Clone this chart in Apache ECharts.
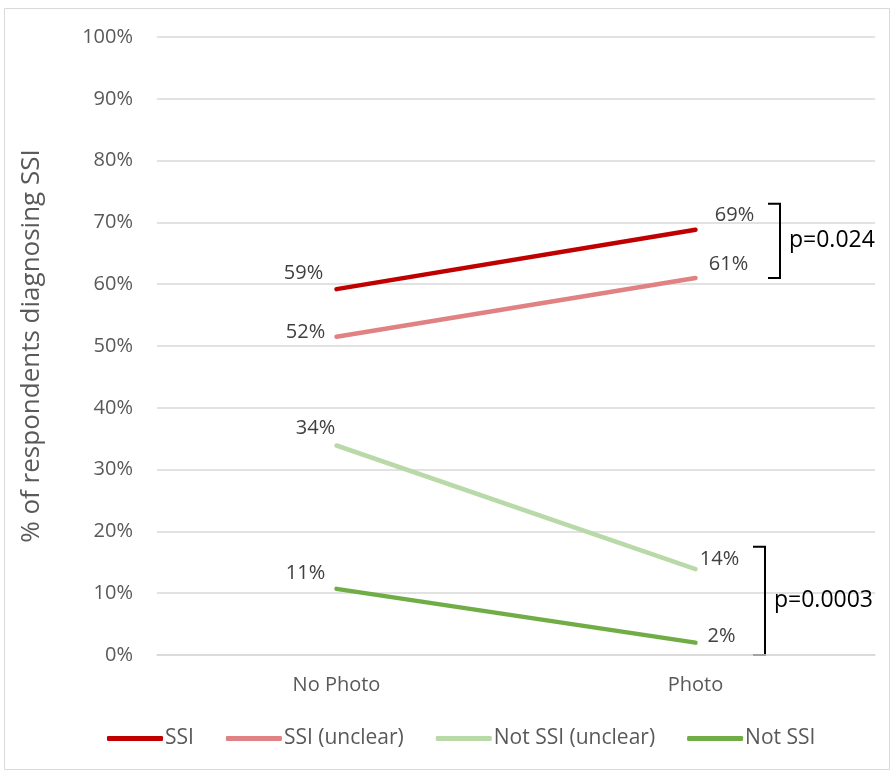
<!DOCTYPE html>
<html><head><meta charset="utf-8">
<script src="https://cdn.jsdelivr.net/npm/echarts@6/dist/echarts.min.js"></script>
<style>html,body{margin:0;padding:0;background:#fff}#c{width:894px;height:775px}</style>
</head><body><div id="c"></div>
<script>
const categories = ['No Photo', 'Photo'];
const seriesNames = ['SSI', 'SSI (unclear)', 'Not SSI (unclear)', 'Not SSI'];
const ssi = [59.2, 68.8];
const ssiUnclear = [51.5, 61.0];
const notSsiUnclear = [33.9, 13.9];
const notSsi = [10.7, 2.0];
const labelText = [['59%', '69%'], ['52%', '61%'], ['34%', '14%'], ['11%', '2%']];
const yTicks = [0, 10, 20, 30, 40, 50, 60, 70, 80, 90, 100];
const pValues = ['p=0.024', 'p=0.0003'];
const bracketRanges = [[73, 61], [17.5, 0]];

const colors = ['#C00000', '#E08283', '#B9DAA8', '#70AD47'];
const allData = [ssi, ssiUnclear, notSsiUnclear, notSsi];
const labelOffsets = [
  [[-33, -16], [39, -15]],
  [[-31, -4], [33, -14]],
  [[-21, -17], [24, -10]],
  [[-31, -16], [26, -6]]
];
const chart = echarts.init(document.getElementById('c'));
const font = 'Open Sans';
chart.setOption({
  animation: false,
  textStyle: { fontFamily: font },
  grid: { left: 157, right: 19, top: 37, bottom: 120 },
  legend: {
    bottom: 21, left: 102,
    itemWidth: 56, itemHeight: 5, itemGap: 32,
    icon: 'roundRect',
    textStyle: { fontSize: 21, color: '#595959', fontFamily: font, padding: [0, 0, 0, -3] },
    data: seriesNames
  },
  xAxis: {
    type: 'category', data: categories,
    axisLine: { lineStyle: { color: '#D9D9D9', width: 1.5 } },
    axisTick: { show: false },
    axisLabel: { fontSize: 20, color: '#595959', margin: 20 }
  },
  yAxis: {
    type: 'value', min: 0, max: 100, interval: 10,
    name: '% of respondents diagnosing SSI', nameLocation: 'middle', nameGap: 112,
    nameTextStyle: { fontSize: 26, color: '#595959' },
    axisLabel: { fontSize: 20, color: '#595959', margin: 24, formatter: v => yTicks.includes(v) ? v + '%' : '' },
    splitLine: { lineStyle: { color: '#D9D9D9', width: 1.5 } },
    axisLine: { show: false }, axisTick: { show: false }
  },
  series: allData.map((d, i) => ({
    name: seriesNames[i], type: 'line', symbol: 'circle', symbolSize: 0.01, showSymbol: true,
    lineStyle: { color: colors[i], width: 4.5, cap: 'round' },
    itemStyle: { color: colors[i] },
    label: { show: true },
    data: d.map((v, j) => ({
      value: v,
      label: {
        show: true, formatter: labelText[i][j],
        position: 'inside',
        offset: labelOffsets[i][j],
        fontSize: 20, color: '#404040', fontFamily: font
      }
    }))
  }))
});

function drawBrackets() {
  const bx = [780, 765];
  const els = [];
  bracketRanges.forEach((r, i) => {
    const y1 = chart.convertToPixel({ yAxisIndex: 0 }, r[0]);
    const y2 = chart.convertToPixel({ yAxisIndex: 0 }, r[1]);
    const x = bx[i];
    els.push({
      type: 'polyline',
      shape: { points: [[x - 12, y1], [x, y1], [x, y2], [x - 12, y2]] },
      style: { stroke: '#000', lineWidth: 2, fill: null }
    });
    els.push({
      type: 'text', x: x + 9, y: (y1 + y2) / 2,
      style: { text: pValues[i], fontSize: 23, fill: '#000', fontFamily: font, verticalAlign: 'middle' }
    });
  });
  els.push({
    type: 'rect', shape: { x: 4.5, y: 8.5, width: 885, height: 761 },
    style: { fill: null, stroke: '#D9D9D9', lineWidth: 1 }, silent: true
  });
  chart.setOption({ graphic: els });
}
drawBrackets();
</script></body></html>
